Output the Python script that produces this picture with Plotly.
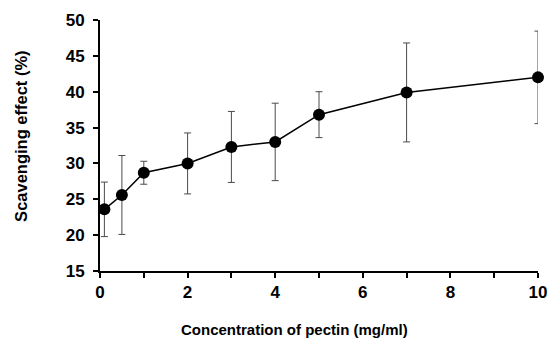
import plotly.graph_objects as go

# Data
concentration = [0.1, 0.5, 1, 2, 3, 4, 5, 7, 10]
scavenging = [23.6, 25.6, 28.7, 30.0, 32.3, 33.0, 36.8, 39.9, 42.0]
error = [3.8, 5.5, 1.6, 4.25, 4.95, 5.4, 3.2, 6.9, 6.45]

x_tickvals = [0, 1, 2, 3, 4, 5, 6, 7, 8, 9, 10]
x_ticktext = ["0", "", "2", "", "4", "", "6", "", "8", "", "10"]
y_tickvals = [15, 20, 25, 30, 35, 40, 45, 50]
y_ticktext = ["15", "20", "25", "30", "35", "40", "45", "50"]

x_title = "Concentration of pectin (mg/ml)"
y_title = "Scavenging effect (%)"

FONT = "Liberation Sans, Arial, sans-serif"


def bold(labels):
    return [f"<b>{t}</b>" if t else "" for t in labels]


fig = go.Figure()
fig.add_trace(go.Scatter(
    x=concentration, y=scavenging,
    mode="lines+markers",
    line=dict(color="black", width=1.5),
    marker=dict(color="black", size=12),
    error_y=dict(type="data", array=error, visible=True,
                 color="#4a4a4a", thickness=1, width=3.5),
    cliponaxis=False,
    showlegend=False,
))

axis_common = dict(showgrid=False, zeroline=False, showline=True,
                   linecolor="black", linewidth=2, ticks="outside",
                   ticklen=5, tickwidth=2, tickcolor="black",
                   automargin=False,
                   tickfont=dict(family=FONT, size=17, color="black"))

fig.update_layout(
    width=550, height=338,
    margin=dict(l=100, r=12, t=20, b=67),
    paper_bgcolor="white", plot_bgcolor="white",
    font=dict(family=FONT, color="black"),
    xaxis=dict(range=[0, 10], tickvals=x_tickvals, ticktext=bold(x_ticktext),
               **axis_common),
    yaxis=dict(range=[15, 50], tickvals=y_tickvals, ticktext=bold(y_ticktext),
               ticklabelstandoff=5, **axis_common),
    annotations=[
        dict(text=f"<b>{x_title}</b>", xref="paper", yref="paper",
             x=0.444, y=-0.2325, xanchor="center", yanchor="middle",
             showarrow=False, font=dict(family=FONT, size=15, color="black")),
        dict(text=f"<b>{y_title}</b>", xref="paper", yref="paper",
             x=-0.180, y=0.535, xanchor="center", yanchor="middle", textangle=-90,
             showarrow=False, font=dict(family=FONT, size=16.5, color="black")),
    ],
)

fig.write_html("out.html")
